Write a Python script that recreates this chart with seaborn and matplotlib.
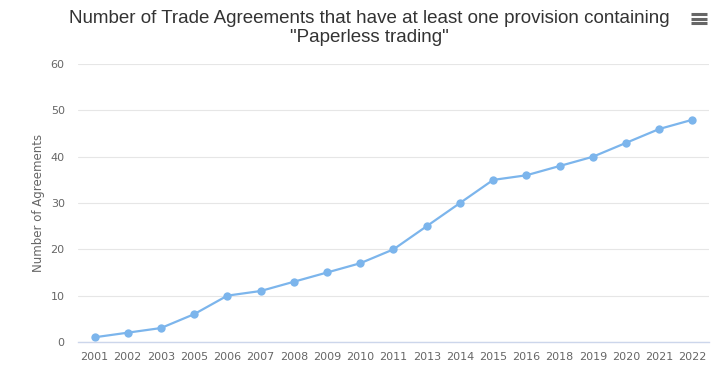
import matplotlib
matplotlib.use("Agg")
import matplotlib.pyplot as plt
import matplotlib.lines as mlines
import seaborn as sns
import pandas as pd

years = ["2001", "2002", "2003", "2005", "2006", "2007", "2008", "2009", "2010",
         "2011", "2013", "2014", "2015", "2016", "2018", "2019", "2020", "2021", "2022"]
agreements = [1, 2, 3, 6, 10, 11, 13, 15, 17, 20, 25, 30, 35, 36, 38, 40, 43, 46, 48]
y_ticks = [0, 10, 20, 30, 40, 50, 60]

df = pd.DataFrame({"Year": years, "Agreements": agreements})

sns.set_theme(style="white")
plt.rcParams["font.family"] = ["DejaVu Sans"]

fig = plt.figure(figsize=(7.28, 3.89), dpi=100)
ax = fig.add_axes([0.107, 0.121, 0.867, 0.714])

sns.lineplot(data=df, x="Year", y="Agreements", ax=ax, color="#7cb5ec",
             linewidth=1.6, marker="o", markersize=6, markeredgewidth=0, sort=False)

ax.set_xlim(-0.5, len(years) - 0.5)
ax.set_ylim(0, 60)
ax.set_yticks(y_ticks)
ax.grid(axis="y", color="#e6e6e6", linewidth=0.8)
ax.set_axisbelow(True)
for side in ["top", "right", "left"]:
    ax.spines[side].set_visible(False)
ax.spines["bottom"].set_color("#ccd6eb")
ax.spines["bottom"].set_linewidth(1.0)
ax.tick_params(axis="both", length=0, colors="#666666", labelsize=8)
ax.tick_params(axis="x", pad=7)
ax.tick_params(axis="y", pad=9.5)
ax.set_xlabel("")
ax.set_ylabel("Number of Agreements", color="#666666", fontsize=8.5, labelpad=4)

title_font = dict(ha="center", va="center", fontsize=13.5, color="#333333",
                  family=["Liberation Sans", "DejaVu Sans"])
fig.text(0.507, 0.953, "Number of Trade Agreements that have at least one provision containing",
         **title_font)
fig.text(0.507, 0.903, "\"Paperless trading\"", **title_font)

# context menu icon
for yy in [14, 18.5, 23]:
    fig.add_artist(mlines.Line2D([691 / 728, 707 / 728], [1 - yy / 389, 1 - yy / 389],
                                 color="#666666", linewidth=2.2, solid_capstyle="butt"))

fig.savefig("out.png", dpi=100)
